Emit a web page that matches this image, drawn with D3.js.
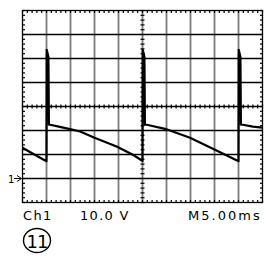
<!DOCTYPE html>
<html><head><meta charset="utf-8">
<script src="https://cdn.jsdelivr.net/npm/d3@7"></script>
<style>body{margin:0;background:#fff}svg{display:block}</style>
</head><body>
<script>
// Trace: time (ms) and Ch1 voltage (V)
const timeMs = [0, 2, 4.8, 5.0, 5.05, 5.4, 5.5, 5.75, 7.8, 9.9, 12, 15, 19.6, 23, 24.8,
  25.0, 25.05, 25.4, 25.5, 25.9, 29.7, 34.9, 40.1, 44.8,
  45.0, 45.05, 45.4, 45.5, 45.9, 48, 50];
const voltsV = [12.8, 10.5, 7.4, 7.2, 53.6, 50.6, 22.4, 22.4, 21.5, 20.6, 19.6, 17, 13.3, 9.9, 7.6,
  7.3, 53.6, 50.6, 22.4, 22.4, 20.7, 17, 12, 7.4,
  7.2, 53.6, 50.6, 22.4, 22.4, 21.6, 21.2];
const xDivs = 10, yDivs = 8;
const timeDomain = [0, 50];      // 5.00 ms/div
const voltDomain = [-10, 70];    // 10.0 V/div, ground marker at 0 V
const labels = {ch: "Ch1", scale: "10.0 V", time: "M5.00ms", badge: "11", marker: "1"};

const W = 270, H = 261;
const L = 22.5, R = 262.5, T = 10.5, B = 202.5;
const svg = d3.select("body").append("svg").attr("width", W).attr("height", H);
const x = d3.scaleLinear().domain(timeDomain).range([L, R]);
const y = d3.scaleLinear().domain(voltDomain).range([B, T]);

const xGrid = d3.range(1, xDivs).map(i => timeDomain[0] + i * (timeDomain[1]-timeDomain[0]) / xDivs);
const yGrid = d3.range(1, yDivs).map(i => voltDomain[0] + i * (voltDomain[1]-voltDomain[0]) / yDivs);

const g = svg.append("g");
g.selectAll("line.v").data(xGrid).join("line")
  .attr("x1", d => x(d)).attr("x2", d => x(d)).attr("y1", T).attr("y2", B)
  .attr("stroke", "#7a7a7a").attr("stroke-width", 1.8);
g.selectAll("line.h").data(yGrid).join("line")
  .attr("x1", L).attr("x2", R).attr("y1", d => y(d)).attr("y2", d => y(d))
  .attr("stroke", "#000").attr("stroke-width", 1.3);

const xMinor = d3.range(0, xDivs * 5 + 1).map(i => timeDomain[0] + i * (timeDomain[1]-timeDomain[0]) / (xDivs*5));
const yMinor = d3.range(0, yDivs * 5 + 1).map(i => voltDomain[0] + i * (voltDomain[1]-voltDomain[0]) / (yDivs*5));
const xc = x((timeDomain[0]+timeDomain[1])/2), yc = y((voltDomain[0]+voltDomain[1])/2);
const tk = g.append("g").attr("stroke", "#000").attr("stroke-width", 1.2);
xMinor.forEach(d => {
  tk.append("line").attr("x1", x(d)).attr("x2", x(d)).attr("y1", T).attr("y2", T+2.5);
  tk.append("line").attr("x1", x(d)).attr("x2", x(d)).attr("y1", B-2.5).attr("y2", B);
  tk.append("line").attr("x1", x(d)).attr("x2", x(d)).attr("y1", yc-2).attr("y2", yc+2);
});
yMinor.forEach(d => {
  tk.append("line").attr("x1", L).attr("x2", L+2.5).attr("y1", y(d)).attr("y2", y(d));
  tk.append("line").attr("x1", R-2.5).attr("x2", R).attr("y1", y(d)).attr("y2", y(d));
  tk.append("line").attr("x1", xc-2).attr("x2", xc+2).attr("y1", y(d)).attr("y2", y(d));
});
g.append("rect").attr("x", L).attr("y", T).attr("width", R-L).attr("height", B-T)
  .attr("fill", "none").attr("stroke", "#000").attr("stroke-width", 1.3);

const pts = timeMs.map((t, i) => [t, voltsV[i]]);
svg.append("path").datum(pts)
  .attr("d", d3.line().x(d => x(d[0])).y(d => y(d[1])))
  .attr("fill", "none").attr("stroke", "#000").attr("stroke-width", 2.2)
  .attr("stroke-linejoin", "round");

const gy = y(0);
svg.append("text").attr("x", 8).attr("y", gy + 4).text(labels.marker)
  .attr("font-family", "DejaVu Sans").attr("font-size", 10).attr("fill", "#000");
svg.append("line").attr("x1", 14).attr("x2", 21).attr("y1", gy).attr("y2", gy)
  .attr("stroke", "#000").attr("stroke-width", 1);
svg.append("path").attr("d", `M${17},${gy-3}L${21.5},${gy}L${17},${gy+3}`)
  .attr("fill", "none").attr("stroke", "#000").attr("stroke-width", 1);

const font = "DejaVu Sans";
const tStyle = s => s.attr("font-family", font).attr("font-size", 13).attr("letter-spacing", 1.3).attr("fill", "#000");
svg.append("text").attr("x", 23).attr("y", 220).text(labels.ch).call(tStyle);
svg.append("text").attr("x", 80).attr("y", 220).text(labels.scale).call(tStyle);
svg.append("text").attr("x", 188).attr("y", 220).attr("textLength", 73).attr("lengthAdjust", "spacing").text(labels.time).call(tStyle);

svg.append("ellipse").attr("cx", 37).attr("cy", 240.5).attr("rx", 13.5).attr("ry", 12)
  .attr("fill", "none").attr("stroke", "#000").attr("stroke-width", 1.4);
svg.append("text").attr("x", 37).attr("y", 247.5).attr("text-anchor", "middle").text(labels.badge)
  .attr("font-family", font).attr("font-size", 18).attr("letter-spacing", -1).attr("fill", "#000");
</script>
</body></html>
